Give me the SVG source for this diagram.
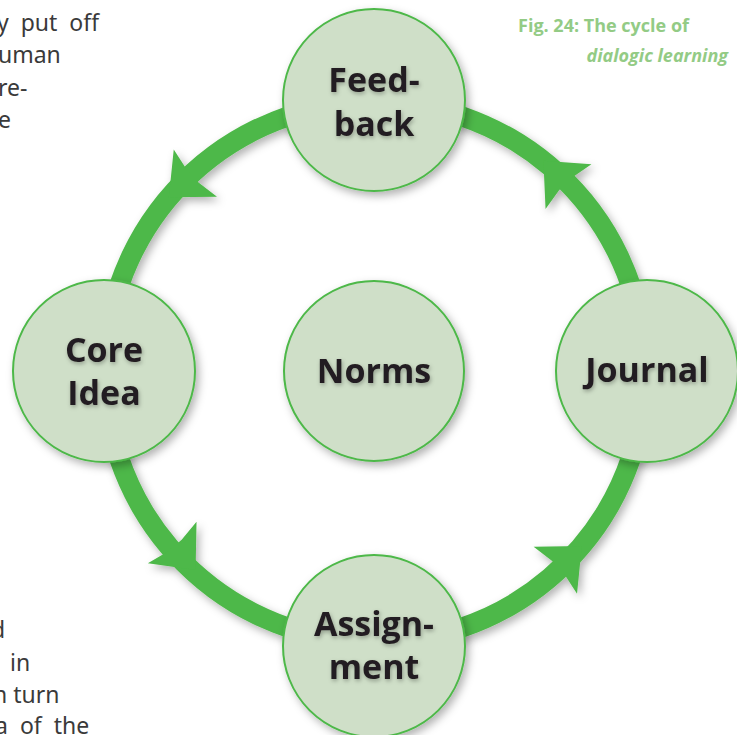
<svg xmlns="http://www.w3.org/2000/svg" width="737" height="735" viewBox="0 0 737 735">
<defs>
<style>
.body{font-family:"Noto Sans","DejaVu Sans",sans-serif;font-size:23px;fill:#3a3a3a}
.cap{font-family:"Open Sans",Lato,sans-serif;font-size:18px;font-weight:700;fill:#93cb85}
.node circle{fill:#cfdfc8;stroke:#4db848;stroke-width:2;filter:url(#sh)}
.node text{font-family:"Open Sans","Noto Sans",sans-serif;font-size:34px;font-weight:700;fill:#231f20;text-anchor:middle;filter:url(#tsh)}
.ring{fill:none;stroke:#4db848;stroke-width:20}
.ah{fill:#4db848}
</style>
<filter id="sh" x="-20%" y="-20%" width="150%" height="150%">
<feDropShadow dx="3" dy="4" stdDeviation="4" flood-color="#000" flood-opacity="0.3"/>
</filter>
<filter id="tsh" x="-10%" y="-20%" width="120%" height="150%">
<feDropShadow dx="1" dy="2" stdDeviation="2" flood-color="#000" flood-opacity="0.3"/>
</filter>
<polygon id="arrow" points="34,0 -2,-32 2,-9 2,9 -2,32"/>
</defs>
<rect width="737" height="735" fill="#fff"/>
<g id="bodytext">
<text class="body" x="-3" y="31" word-spacing="6">y put off</text>
<text class="body" x="-2" y="63">uman</text>
<text class="body" x="-2" y="96">re-</text>
<text class="body" x="-2" y="128">e</text>
<text class="body" x="-9" y="638">d</text>
<text class="body" x="10" y="671">in</text>
<text class="body" x="-7" y="703">n turn</text>
<text class="body" x="-5" y="734" word-spacing="6">a of the</text>
</g>
<g id="caption">
<text class="cap" x="689" y="32" text-anchor="end">Fig. 24: The cycle of</text>
<text class="cap" x="728" y="62" text-anchor="end" font-style="italic">dialogic learning</text>
</g>
<g id="connectors" filter="url(#sh)">
<circle class="ring" cx="375" cy="372" r="270"/>
<use href="#arrow" class="ah" transform="translate(193.9,174.4) rotate(137.5)"/>
<use href="#arrow" class="ah" transform="translate(567.1,185.2) rotate(225.8)"/>
<use href="#arrow" class="ah" transform="translate(173.5,544.1) rotate(49.5)"/>
<use href="#arrow" class="ah" transform="translate(556.8,569) rotate(-42.7)"/>
</g>
<g id="feedback" class="node">
<circle cx="374" cy="100" r="91"/>
<text x="374" y="92">Feed-</text>
<text x="374" y="136">back</text>
</g>
<g id="journal" class="node">
<circle cx="647" cy="371" r="91"/>
<text x="647" y="382">Journal</text>
</g>
<g id="coreidea" class="node">
<circle cx="104" cy="371" r="91"/>
<text x="104" y="362">Core</text>
<text x="104" y="405">Idea</text>
</g>
<g id="norms" class="node">
<circle cx="374" cy="371" r="90"/>
<text x="374" y="383">Norms</text>
</g>
<g id="assignment" class="node">
<circle cx="374" cy="646" r="91"/>
<text x="374" y="636">Assign-</text>
<text x="374" y="679">ment</text>
</g>
</svg>
